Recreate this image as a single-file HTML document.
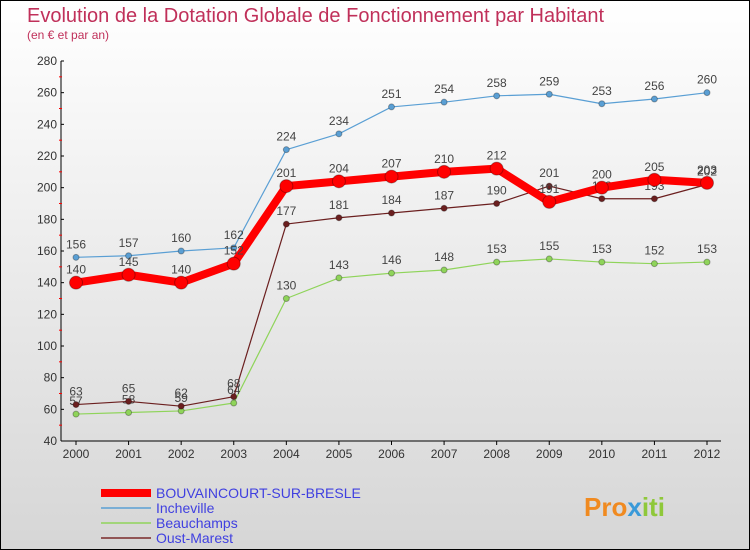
<!DOCTYPE html>
<html><head><meta charset="utf-8"><style>
body{margin:0}
#c{width:748px;height:548px;border:1px solid #000;background:linear-gradient(#fff,#d6d6d6);position:relative;font-family:"Liberation Sans",sans-serif;overflow:hidden}
</style></head><body>
<div id="c">
<svg id="s" width="748" height="548" xmlns="http://www.w3.org/2000/svg">
<text x="26" y="21" font-size="20" fill="#c0305a">Evolution de la Dotation Globale de Fonctionnement par Habitant</text>
<text x="26" y="38" font-size="12" fill="#c0305a">(en € et par an)</text>
<g id="ax"></g><g id="sr"></g>
<g>
<line x1="100" y1="492" x2="150" y2="492" stroke="#f00" stroke-width="8"/>
<text x="155" y="497" font-size="14" fill="#4040e0">BOUVAINCOURT-SUR-BRESLE</text>
<line x1="100" y1="507" x2="150" y2="507" stroke="#5a9fd4" stroke-width="1.5"/>
<text x="155" y="512" font-size="14" fill="#4040e0">Incheville</text>
<line x1="100" y1="522" x2="150" y2="522" stroke="#8fd45a" stroke-width="1.5"/>
<text x="155" y="527" font-size="14" fill="#4040e0">Beauchamps</text>
<line x1="100" y1="537" x2="150" y2="537" stroke="#7a2a2a" stroke-width="1.5"/>
<text x="155" y="542" font-size="14" fill="#4040e0">Oust-Marest</text>
</g>
<text x="583" y="515" font-size="26" font-weight="bold" fill="#f08a20">Pro<tspan fill="#3a9ad9">x</tspan><tspan fill="#8fc83a">iti</tspan></text>
</svg>
</div>
<script>
const years=[2000,2001,2002,2003,2004,2005,2006,2007,2008,2009,2010,2011,2012];
const yTicks=[40,60,80,100,120,140,160,180,200,220,240,260,280];
const bouv=[140,145,140,152,201,204,207,210,212,191,200,205,203];
const inch=[156,157,160,162,224,234,251,254,258,259,253,256,260];
const beau=[57,58,59,64,130,143,146,148,153,155,153,152,153];
const oust=[63,65,62,68,177,181,184,187,190,201,193,193,202];
const NS="http://www.w3.org/2000/svg";
function X(i){return 75+i*(706-75)/(years.length-1);}
function Y(v){return 440-(v-40)*380/240;}
function mk(t,a,p){const e=document.createElementNS(NS,t);for(const k in a)e.setAttribute(k,a[k]);p.appendChild(e);return e;}
const ax=document.getElementById('ax'),sr=document.getElementById('sr');
const yl=mk('line',{x1:60,y1:Y(280),x2:60,y2:Y(40),stroke:'#000'},ax);


const xl=mk('line',{x1:60,y1:Y(40),x2:720,y2:Y(40),stroke:'#000'},ax);


yTicks.forEach((v,i)=>{
 mk('line',{x1:60,y1:Y(v),x2:63,y2:Y(v),stroke:'#000'},ax);
 if(i<yTicks.length-1)mk('line',{x1:58,y1:Y(v+10),x2:61,y2:Y(v+10),stroke:'#f00'},ax);
 const t=mk('text',{x:56,y:Y(v)+4,'font-size':12,fill:'#333','text-anchor':'end'},ax);t.textContent=v;
 
 
});
years.forEach((y,i)=>{
 mk('line',{x1:X(i),y1:440,x2:X(i),y2:444,stroke:'#000'},ax);
 const t=mk('text',{x:X(i),y:457,'font-size':12,fill:'#333','text-anchor':'middle'},ax);t.textContent=y;
 
 
});
function series(d,col,w,r,name){
 const g=mk('g',{},sr);
 
 
 mk('polyline',{points:d.map((v,i)=>X(i)+','+Y(v)).join(' '),fill:'none',stroke:col,'stroke-width':w,'stroke-linejoin':'round'},g);
 d.forEach((v,i)=>{
  const c=mk('circle',{cx:X(i),cy:Y(v),r:r,fill:col,stroke:'rgba(0,0,0,0.3)'},g);
  
  
  const t=mk('text',{x:X(i),y:Y(v)-9,'font-size':12,fill:'#444','text-anchor':'middle'},g);t.textContent=v;
  
  
 });
}
series(inch,'#5a9fd4',1.2,3,'incheville');
series(beau,'#8fd45a',1.2,3,'beauchamps');
series(oust,'#6b1f1f',1.2,3,'oust-marest');
series(bouv,'#f00',8,6.5,'bouvaincourt');
</script>
</body></html>
